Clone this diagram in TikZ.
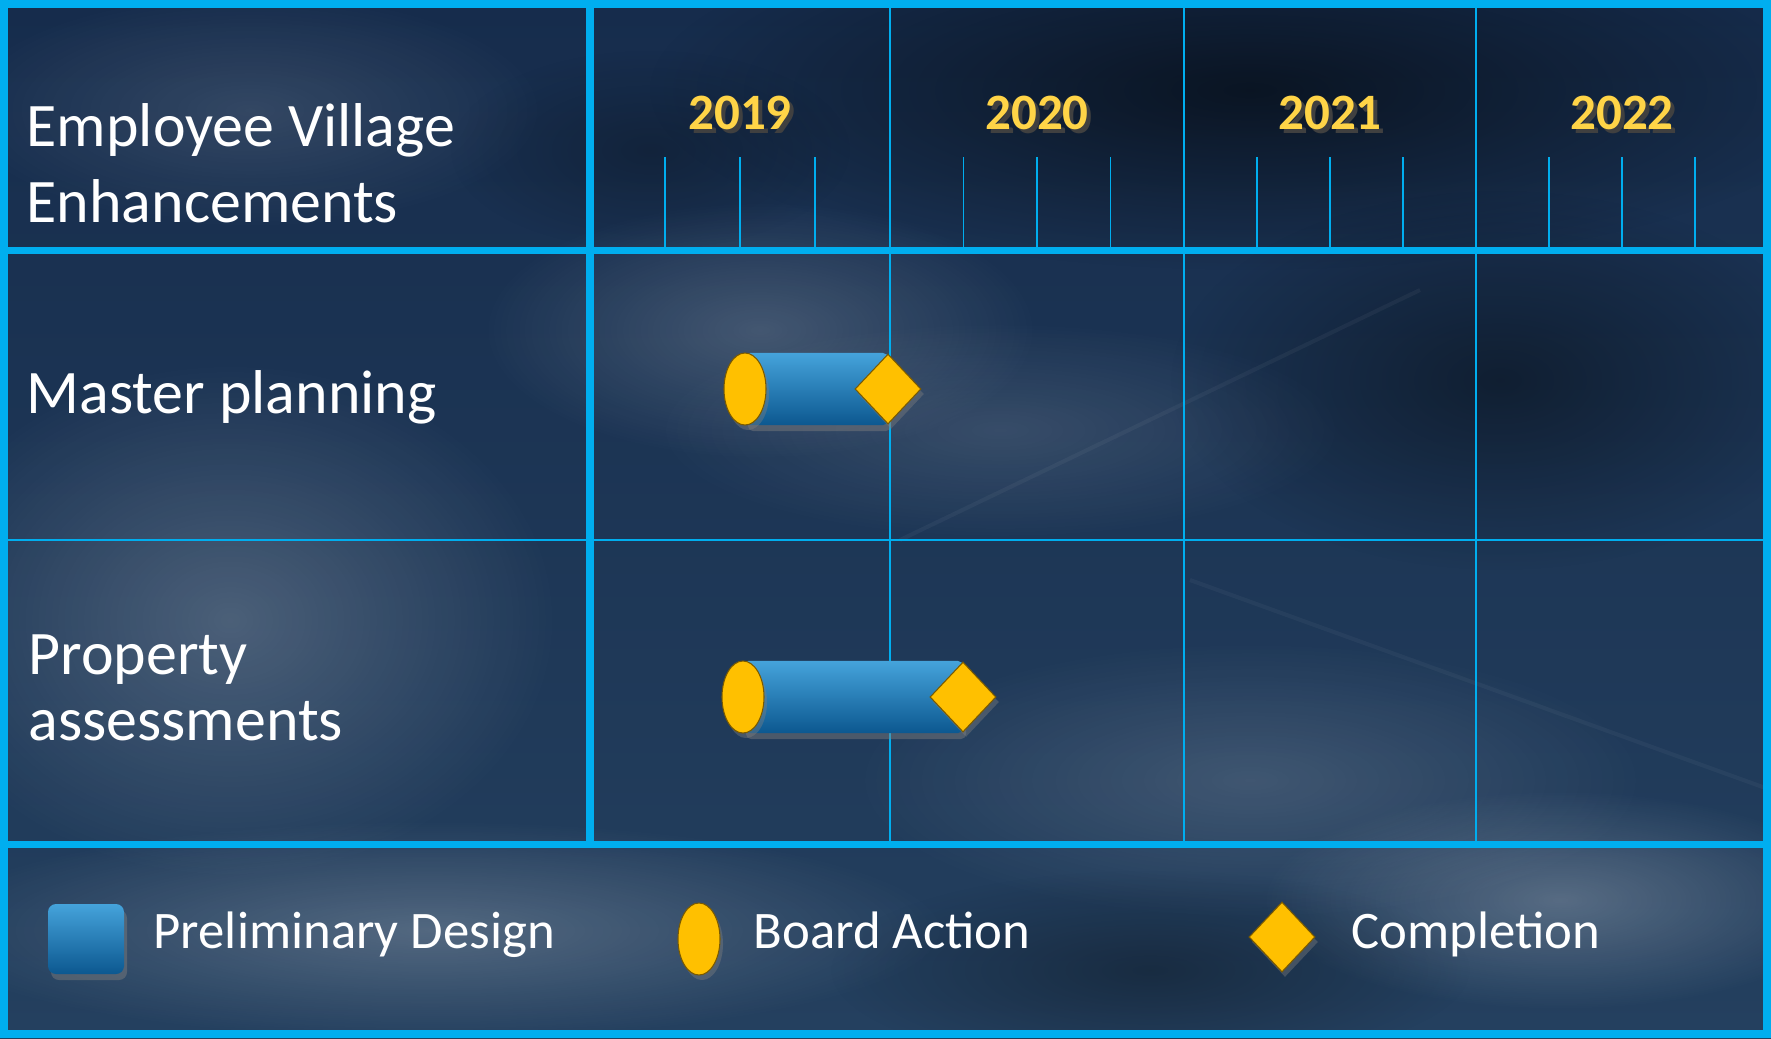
\documentclass[tikz,border=0pt]{standalone}
\usepackage{fontspec}
\setmainfont{Carlito}
\usetikzlibrary{fadings,shadows,shapes.geometric}
\definecolor{gridcyan}{HTML}{00AEEF}
\definecolor{bgtop}{HTML}{162C4C}
\definecolor{bgbottom}{HTML}{24405F}
\definecolor{gold}{HTML}{FFC000}
\definecolor{golddark}{HTML}{7A5A00}
\definecolor{yeartext}{HTML}{FFD447}
\definecolor{barlight}{HTML}{45A3DB}
\definecolor{barmid}{HTML}{1F7AB8}
\definecolor{bardark}{HTML}{0C5890}
\tikzfading[name=softblob, inner color=transparent!0, outer color=transparent!100]
\tikzset{
  thickline/.style={draw=gridcyan, line width=0.07cm},
  gridline/.style={draw=gridcyan, line width=0.022cm},
  tickline/.style={draw=gridcyan, line width=0.015cm},
  rowlabel/.style={anchor=base west, inner sep=0pt, text=white, align=left,
    font=\fontsize{17.6}{21.6}\selectfont},
  yearlabel/.style={inner sep=0pt, text=yeartext, font=\fontsize{14.5}{16}\selectfont\bfseries},
  legendlabel/.style={anchor=base west, inner sep=0pt, text=white, font=\fontsize{15}{18}\selectfont},
  boardoval/.style={ellipse, fill=gold, draw=golddark, line width=0.3pt, inner sep=0pt,
    minimum width=0.42cm, minimum height=0.72cm,
    drop shadow={shadow xshift=0.03cm, shadow yshift=-0.05cm, opacity=0.4}},
  donediamond/.style={diamond, fill=gold, draw=golddark, line width=0.3pt, inner sep=0pt,
    minimum width=0.66cm, minimum height=0.70cm,
    drop shadow={shadow xshift=0.03cm, shadow yshift=-0.05cm, opacity=0.4}},
  designbar/.style={top color=barlight, middle color=barmid, bottom color=bardark,
    rounded corners=0.05cm,
    drop shadow={shadow xshift=0.03cm, shadow yshift=-0.06cm, opacity=0.45}},
  softlight/.style={white, opacity=#1, path fading=softblob},
  softdark/.style={black, opacity=#1, path fading=softblob}
}
\newcommand{\yearshadow}[1]{\makebox[0pt][l]{\hspace{0.04cm}\raisebox{-0.04cm}{\color{black!75}#1}}#1}
\newcommand{\yearcell}[3]{
  \node[yearlabel] (y#3) at ({(#1+#2)/2},115) {\yearshadow{#3}};
  \foreach \q in {1,2,3} \draw[tickline] ({#1+\q*(#2-#1)/4},157) -- ({#1+\q*(#2-#1)/4},250);
}
\newcommand{\taskbar}[4]{
  \coordinate (#1s) at (#3,#2);
  \coordinate (#1e) at (#4,#2);
  \path[designbar] ([yshift=-0.36cm]#1s) rectangle ([yshift=0.36cm]#1e);
  \node[boardoval] (#1oval) at (#1s) {};
  \node[donediamond] (#1done) at (#1e) {};
}

\begin{document}
\begin{tikzpicture}[x=0.01cm, y=-0.01cm]
  \useasboundingbox (0,0) rectangle (1771,1038);
  % background
  \fill[top color=bgtop, bottom color=bgbottom] (0,0) rectangle (1771,1038);
  \fill[softlight=0.20] (230,620) ellipse (330 and 260);
  \fill[softlight=0.18] (760,330) ellipse (280 and 130);
  \fill[softlight=0.12] (1000,430) ellipse (350 and 110);
  \fill[softlight=0.22] (430,930) ellipse (520 and 110);
  \fill[softlight=0.24] (1560,900) ellipse (300 and 110);
  \fill[softlight=0.14] (1250,780) ellipse (400 and 140);
  \fill[softlight=0.12] (250,110) ellipse (300 and 120);
  \fill[softdark=0.55] (1250,90) ellipse (600 and 180);
  \fill[softdark=0.40] (1500,380) ellipse (330 and 190);
  \fill[softdark=0.30] (1150,970) ellipse (320 and 100);
  \fill[softdark=0.25] (650,150) ellipse (200 and 100);
  \draw[white, opacity=0.045, line width=0.04cm] (900,540) -- (1420,290);
  \draw[white, opacity=0.04, line width=0.04cm] (1190,580) -- (1771,790);

  % grid
  \draw[gridline] (0,540) -- (1771,540);
  \foreach \gx in {890,1184,1476} \draw[gridline] (\gx,0) -- (\gx,844);
  \draw[thickline] (0,250) -- (1771,250);
  \draw[thickline] (0,844) -- (1771,844);
  \draw[thickline] (590,0) -- (590,844);
  \draw[draw=gridcyan, line width=0.08cm] (4,4) rectangle (1767,1034);

  % header
  \node[rowlabel] (title) at (26,222) {Employee Village\\Enhancements};
  \yearcell{590}{890}{2019}
  \yearcell{890}{1184}{2020}
  \yearcell{1184}{1476}{2021}
  \yearcell{1476}{1768}{2022}

  % row1
  \node[rowlabel] (master) at (26,413) {Master planning};
  \taskbar{mp}{389}{745}{888}

  % row2
  \node[rowlabel, font=\fontsize{17.6}{18.5}\selectfont] (property) at (28,740) {Property\\assessments};
  \taskbar{pa}{697}{743}{963}

  % legend
  \path[designbar, rounded corners=0.08cm] (48,904) rectangle (124,974);
  \node[legendlabel] (design) at (153,948) {Preliminary Design};
  \node[boardoval] (legoval) at (699,939) {};
  \node[legendlabel] (board) at (753,948) {Board Action};
  \node[donediamond] (legdone) at (1282,937) {};
  \node[legendlabel] (done) at (1351,948) {Completion};
\end{tikzpicture}
\end{document}
